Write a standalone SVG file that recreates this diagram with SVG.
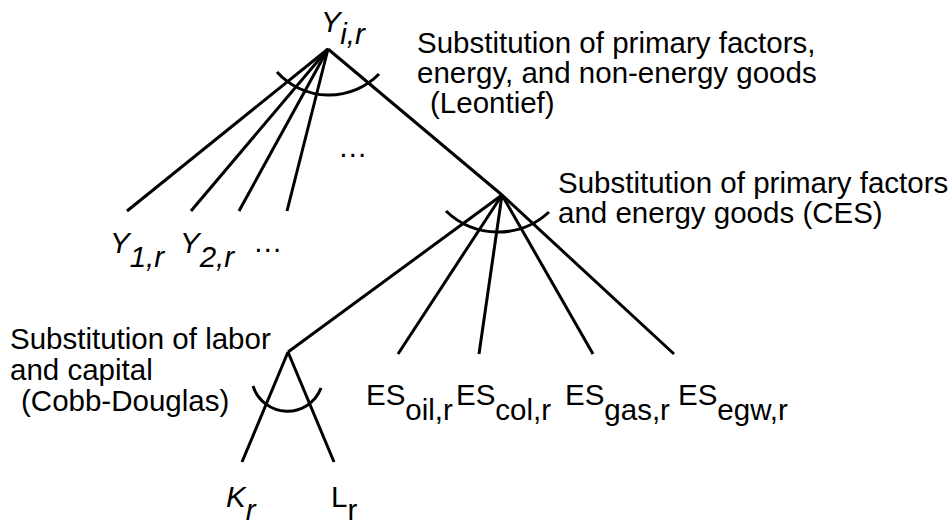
<svg xmlns="http://www.w3.org/2000/svg" width="952" height="524" viewBox="0 0 952 524">
<style>
text { font-family: "Liberation Sans", Arial, sans-serif; font-size: 29.5px; fill: #000; }
.it { font-style: italic; }
.edge { stroke: #000; stroke-width: 3; fill: none; stroke-linecap: butt; }
.arc { stroke: #000; stroke-width: 3; fill: none; }
</style>
<rect width="952" height="524" fill="#fff"/>
<g id="connectors">
  <line class="edge" x1="328" y1="49" x2="127" y2="211"/>
  <line class="edge" x1="328" y1="49" x2="191" y2="211"/>
  <line class="edge" x1="328" y1="49" x2="239" y2="211"/>
  <line class="edge" x1="328" y1="49" x2="287" y2="211"/>
  <line class="edge" x1="328" y1="49" x2="502" y2="195"/>
  <line class="edge" x1="502" y1="195" x2="288" y2="352"/>
  <line class="edge" x1="502" y1="195" x2="398" y2="354"/>
  <line class="edge" x1="502" y1="195" x2="479" y2="354"/>
  <line class="edge" x1="502" y1="195" x2="593" y2="354"/>
  <line class="edge" x1="502" y1="195" x2="674" y2="354"/>
  <line class="edge" x1="288" y1="352" x2="242" y2="462"/>
  <line class="edge" x1="288" y1="352" x2="334" y2="462"/>
</g>
<g id="node-top">
  <text x="321" y="32" class="it">Y<tspan dy="12">i,r</tspan></text>
  <path class="arc" d="M277,72 A70,70 0 0 0 379,74"/>
  <text x="417" y="53">Substitution of primary factors,</text>
  <text x="417" y="83">energy, and non-energy goods</text>
  <text x="430" y="113">(Leontief)</text>
</g>
<g id="node-dots-mid">
  <text x="338" y="157">…</text>
</g>
<g id="node-y1">
  <text x="110" y="253" class="it">Y<tspan dy="14">1,r</tspan></text>
</g>
<g id="node-y2">
  <text x="180" y="253" class="it">Y<tspan dy="14">2,r</tspan></text>
</g>
<g id="node-dots">
  <text x="253" y="252">…</text>
</g>
<g id="node-ces">
  <path class="arc" d="M446,211 A75,75 0 0 0 549,212"/>
  <text x="558" y="193">Substitution of primary factors</text>
  <text x="558" y="223">and energy goods (CES)</text>
</g>
<g id="node-cobb">
  <path class="arc" d="M253,386 A36,36 0 0 0 321,388"/>
  <text x="10" y="349">Substitution of labor</text>
  <text x="10" y="380">and capital</text>
  <text x="21" y="411">(Cobb-Douglas)</text>
</g>
<g id="node-es-oil"><text x="366" y="405">ES<tspan dy="15">oil,r</tspan></text></g>
<g id="node-es-col"><text x="456" y="405">ES<tspan dy="15">col,r</tspan></text></g>
<g id="node-es-gas"><text x="565" y="405">ES<tspan dy="15">gas,r</tspan></text></g>
<g id="node-es-egw"><text x="678" y="405">ES<tspan dy="15">egw,r</tspan></text></g>
<g id="node-k"><text x="226" y="507" class="it">K<tspan dy="13">r</tspan></text></g>
<g id="node-l"><text x="331" y="507">L<tspan dy="13">r</tspan></text></g>
</svg>
